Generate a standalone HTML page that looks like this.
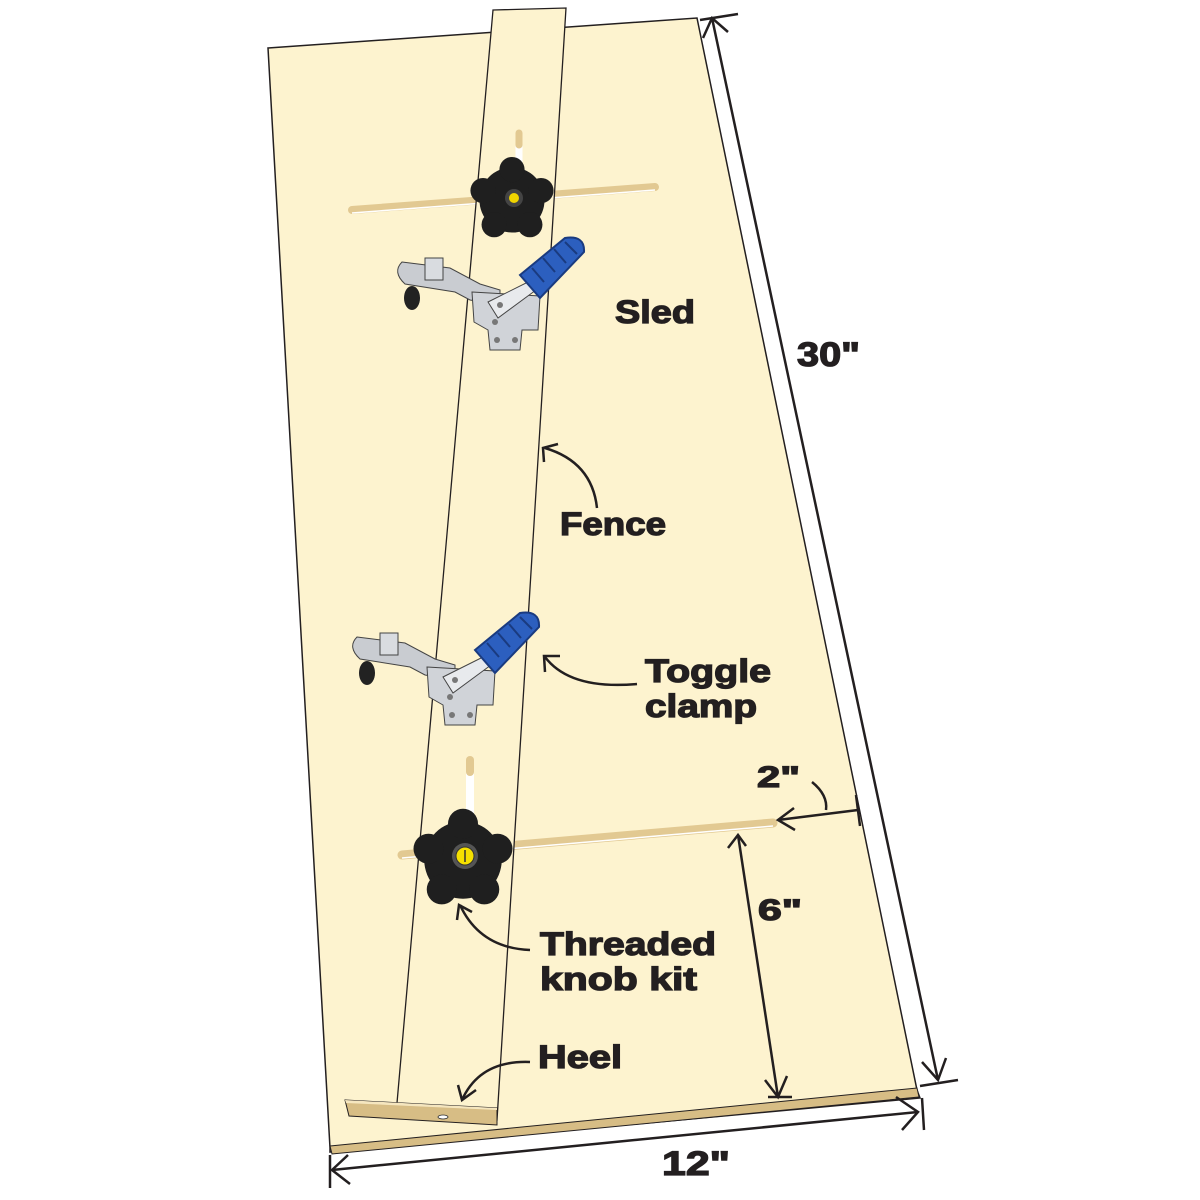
<!DOCTYPE html>
<html><head><meta charset="utf-8"><style>
html,body{margin:0;padding:0;background:#fff;}
svg{display:block}
text{font-family:"Liberation Sans",sans-serif;font-weight:bold;fill:#231f20;stroke:#231f20;stroke-width:1.3;}
</style></head><body>
<svg width="1200" height="1200" viewBox="0 0 1200 1200" xmlns="http://www.w3.org/2000/svg">
<defs>
<g id="clamp">
  <ellipse cx="412" cy="298" rx="8" ry="12" fill="#222"/>
  <path d="M402,262 L450,268 L480,284 L500,290 L500,305 L470,300 L455,292 L405,284 Q392,272 402,262Z" fill="#c9ccd1" stroke="#444" stroke-width="1"/>
  <rect x="425" y="258" width="18" height="22" fill="#d9dce0" stroke="#444" stroke-width="1"/>
  <path d="M472,292 L540,296 L538,330 L522,330 L520,350 L490,350 L488,330 L474,322Z" fill="#d0d3d8" stroke="#444" stroke-width="1"/>
  <path d="M488,302 L528,282 L536,290 L498,318Z" fill="#e8eaed" stroke="#444" stroke-width="1"/>
  <circle cx="497" cy="340" r="3" fill="#777"/><circle cx="515" cy="340" r="3" fill="#777"/>
  <circle cx="500" cy="305" r="3" fill="#777"/><circle cx="495" cy="322" r="3" fill="#777"/>
  <path d="M520,275 L565,238 Q585,235 584,252 L540,298Z" fill="#2c5fbf" stroke="#1a3b80" stroke-width="2"/>
  <path d="M532,268 l12,14 M543,258 l12,14 M554,249 l12,14 M565,242 l12,12" stroke="#1a3b80" stroke-width="2"/>
</g>
<g id="knob">
  <circle cx="0" cy="0" r="31" fill="#1f1f1f"/>
  <circle cx="0" cy="-29" r="12" fill="#1f1f1f"/>
  <circle cx="27.6" cy="-9" r="12" fill="#1f1f1f"/>
  <circle cx="17" cy="23.5" r="12" fill="#1f1f1f"/>
  <circle cx="-17" cy="23.5" r="12" fill="#1f1f1f"/>
  <circle cx="-27.6" cy="-9" r="12" fill="#1f1f1f"/>
</g>
</defs>

<polygon points="268,48 697,18 917,1090 920,1098 330,1152 330,1148" fill="#fdf3cf" stroke="#231f20" stroke-width="1.5"/>
<polygon points="330,1146 917,1088 919,1097 332,1154" fill="#d7bd85" stroke="#231f20" stroke-width="1"/>

<line x1="352" y1="210" x2="655" y2="187" stroke="#e2c992" stroke-width="8" stroke-linecap="round"/>
<line x1="352" y1="213" x2="655" y2="190" stroke="#fff" stroke-width="1.5"/>
<line x1="402" y1="855" x2="773" y2="823" stroke="#e2c992" stroke-width="9" stroke-linecap="round"/>
<line x1="402" y1="858" x2="773" y2="826" stroke="#fff" stroke-width="1.5"/>

<polygon points="493,10 566,8 497,1120 397,1103" fill="#fdf3cf" stroke="#231f20" stroke-width="1.3"/>

<polygon points="345,1100 497,1108 497,1125 349,1116" fill="#d7bd85" stroke="#231f20" stroke-width="1"/>
<polygon points="345,1100 497,1108 497,1110 346,1103" fill="#f5e6bf"/>
<ellipse cx="443" cy="1117" rx="5" ry="2" fill="#fff" stroke="#333" stroke-width="0.8"/>

<line x1="519" y1="135" x2="519" y2="180" stroke="#fff" stroke-width="7" stroke-linecap="round"/>
<line x1="519" y1="133" x2="519" y2="145" stroke="#e2c992" stroke-width="7" stroke-linecap="round"/>
<line x1="470" y1="762" x2="470" y2="830" stroke="#fff" stroke-width="8" stroke-linecap="round"/>
<line x1="470" y1="760" x2="470" y2="772" stroke="#e2c992" stroke-width="8" stroke-linecap="round"/>

<use href="#knob" transform="translate(512,200) scale(1.05)"/>
<circle cx="514" cy="198" r="9" fill="#444"/><circle cx="514" cy="198" r="5" fill="#f0d400"/>
<use href="#knob" transform="translate(463,860) scale(1.25)"/>
<circle cx="465" cy="856" r="13" fill="#555"/><circle cx="465" cy="856" r="9" fill="#f5e000" stroke="#333" stroke-width="1"/>
<line x1="465" y1="850" x2="465" y2="862" stroke="#333" stroke-width="1.5"/>

<use href="#clamp"/>
<use href="#clamp" transform="translate(-45,375)"/>

<g stroke="#231f20" stroke-width="2.5" fill="none">
  <line x1="712" y1="18" x2="938" y2="1080"/>
  <line x1="700" y1="20" x2="738" y2="14"/>
  <line x1="920" y1="1086" x2="958" y2="1080"/>
  <polyline points="703,38 712,18 728,32"/>
  <polyline points="922,1062 938,1080 946,1058"/>
  <line x1="332" y1="1170" x2="918" y2="1112"/>
  <line x1="330" y1="1155" x2="330" y2="1188"/>
  <line x1="922" y1="1098" x2="924" y2="1130"/>
  <polyline points="348,1155 332,1170 350,1184"/>
  <polyline points="896,1097 918,1112 902,1130"/>
  <line x1="738" y1="835" x2="778" y2="1097"/>
  <polyline points="728,848 738,835 746,846"/>
  <polyline points="765,1080 778,1097 787,1076"/>
  <line x1="768" y1="1097" x2="792" y2="1097"/>
  <line x1="778" y1="820" x2="858" y2="810"/>
  <line x1="856" y1="795" x2="860" y2="826"/>
  <polyline points="794,808 778,820 795,830"/>
  <path d="M812,782 Q828,795 826,810"/>
  <path d="M597,508 Q592,462 545,448"/>
  <polyline points="544,462 543,448 558,444"/>
  <path d="M637,684 Q570,690 545,657"/>
  <polyline points="545,672 544,656 560,656"/>
  <path d="M530,950 Q480,948 460,905"/>
  <polyline points="457,920 459,905 472,912"/>
  <path d="M530,1062 Q480,1060 462,1100"/>
  <polyline points="458,1085 462,1100 476,1090"/>
</g>

<text x="615" y="323" font-size="32" textLength="80" lengthAdjust="spacingAndGlyphs">Sled</text>
<text x="797" y="366" font-size="34" textLength="63" lengthAdjust="spacingAndGlyphs">30"</text>
<text x="560" y="535" font-size="32" textLength="106" lengthAdjust="spacingAndGlyphs">Fence</text>
<text x="645" y="682" font-size="32" textLength="126" lengthAdjust="spacingAndGlyphs">Toggle</text>
<text x="645" y="717" font-size="32" textLength="112" lengthAdjust="spacingAndGlyphs">clamp</text>
<text x="757" y="787" font-size="30" textLength="43" lengthAdjust="spacingAndGlyphs">2"</text>
<text x="758" y="920" font-size="30" textLength="44" lengthAdjust="spacingAndGlyphs">6"</text>
<text x="540" y="955" font-size="32" textLength="176" lengthAdjust="spacingAndGlyphs">Threaded</text>
<text x="540" y="990" font-size="32" textLength="157" lengthAdjust="spacingAndGlyphs">knob kit</text>
<text x="538" y="1068" font-size="32" textLength="84" lengthAdjust="spacingAndGlyphs">Heel</text>
<text x="662" y="1175" font-size="34" textLength="68" lengthAdjust="spacingAndGlyphs">12"</text>
</svg>
</body></html>
